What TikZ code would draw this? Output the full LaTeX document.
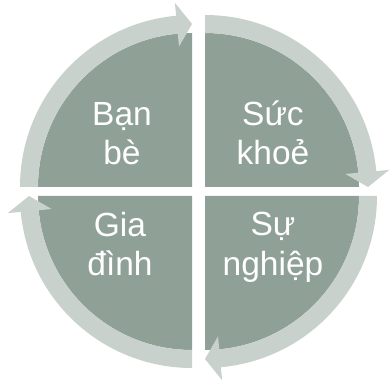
\documentclass[tikz,border=0pt]{standalone}
\usepackage{fontspec}
\setmainfont{Liberation Sans}
\definecolor{sectorgray}{HTML}{8FA097}
\definecolor{bandgray}{HTML}{C9D1CD}
\begin{document}
\begin{tikzpicture}[
  x=1pt, y=1pt,
  sector/.style={fill=sectorgray},
  band/.style={fill=bandgray},
  quadtext/.style={text=white, align=center, inner sep=0pt,
    font=\fontsize{33.5}{39}\selectfont}
]
  \def\R{154}   % sector radius
  \def\Ro{172}  % outer edge of the arrow band
  \def\Rm{163}  % arrow tip
  \def\Hin{141}
  \def\Hout{185}
  \def\hd{5.3}  % arrowhead length in degrees
  \useasboundingbox (0,0) rectangle (389,381);
  \foreach \cx/\cy/\a/\nm/\tx/\ty/\txt in {
      192/194/180/banbe/122/216/{Bạn\\bè},
      205/194/90/suckhoe/273/216/{Sức\\khoẻ},
      205/185/0/sunghiep/273/106/{Sự\\nghiệp},
      192/185/-90/giadinh/120/105/{Gia\\đình}} {
    \pgfmathsetmacro{\b}{\a-90}
    \pgfmathsetmacro{\e}{\b+\hd}
    \fill[sector] (\cx,\cy) -- ++(\a:\R)
      arc[start angle=\a, end angle=\b, radius=\R] -- cycle;
    \begin{scope}[shift={(\cx,\cy)}]
      \fill[band] (\a:\Ro) arc[start angle=\a, end angle=\e, radius=\Ro]
        -- (\e:\Hout) -- (\b:\Rm) -- (\e:\Hin) -- (\e:\R)
        arc[start angle=\e, end angle=\a, radius=\R] -- cycle;
    \end{scope}
    \node[quadtext, anchor=base] (\nm) at (\tx,\ty) {\txt};
  }
\end{tikzpicture}
\end{document}
